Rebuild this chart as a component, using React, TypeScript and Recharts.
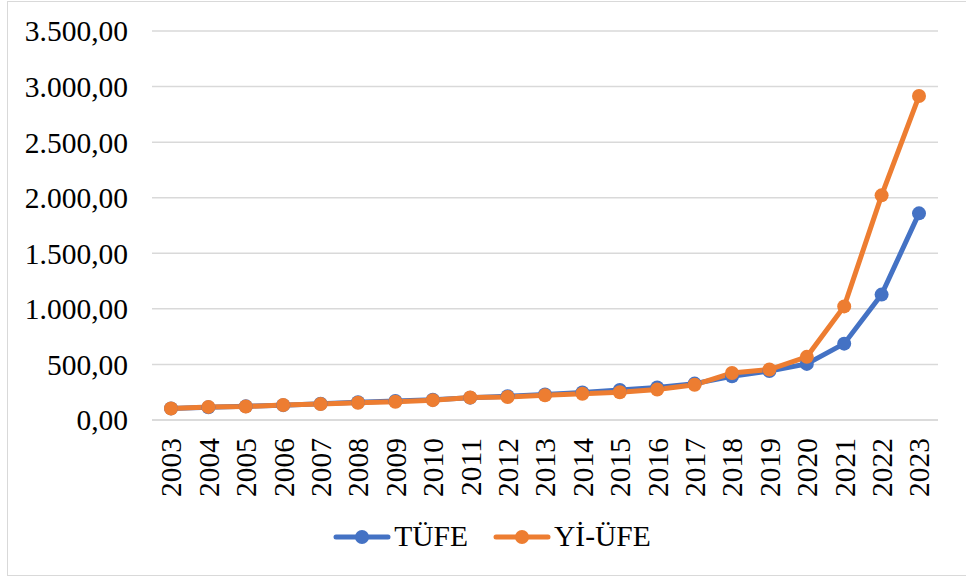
import React from "react";
import { LineChart, Line, XAxis, YAxis, CartesianGrid, Legend } from "recharts";

const years = [
  "2003", "2004", "2005", "2006", "2007", "2008", "2009", "2010", "2011", "2012", "2013",
  "2014", "2015", "2016", "2017", "2018", "2019", "2020", "2021", "2022", "2023"
];
const tufe = [
  104.2, 113.9, 122.7, 133.8, 145.8, 160.4, 170.9, 181.9, 200.9, 213.2, 229.0,
  247.7, 269.5, 292.5, 327.4, 393.9, 440.5, 504.8, 687.0, 1128.5, 1859.4
];
const yiufe = [
  103.7, 118.0, 121.1, 135.2, 143.2, 154.8, 164.0, 178.5, 202.3, 207.3, 221.7,
  235.8, 249.3, 274.1, 316.5, 422.9, 454.1, 568.3, 1022.3, 2021.2, 2915.0
];
const yTicks = [0, 500, 1000, 1500, 2000, 2500, 3000, 3500];

const data = years.map((year, i) => ({ year, tufe: tufe[i], yiufe: yiufe[i] }));

const FONT = "'Liberation Serif', 'Times New Roman', serif";
const FS = 29.5;
const BLUE = "#4472C4";
const ORANGE = "#ED7D31";

// Turkish number format: 3.500,00
const fmt = (v: number) => {
  const [int, dec] = v.toFixed(2).split(".");
  return int.replace(/\B(?=(\d{3})+(?!\d))/g, ".") + "," + dec;
};

const YearTick = (props: any) => {
  const { x, payload } = props;
  return (
    <g transform={`translate(${x},438)`}>
      <text transform="rotate(-90)" textAnchor="end" dy="0.35em" fontFamily={FONT} fontSize={FS} fill="#000">
        {payload.value}
      </text>
    </g>
  );
};

const legendItems = [
  { name: "TÜFE", color: BLUE },
  { name: "Yİ-ÜFE", color: ORANGE }
];

const ChartLegend = () => (
  <div style={{ display: "flex", justifyContent: "center", gap: 25, paddingLeft: 46, fontFamily: FONT, fontSize: FS, color: "#000" }}>
    {legendItems.map((it) => (
      <div key={it.name} style={{ display: "flex", alignItems: "center" }}>
        <svg width={58} height={20} style={{ marginRight: 3 }}>
          <line x1={3} y1={10} x2={55} y2={10} stroke={it.color} strokeWidth={5} strokeLinecap="round" />
          <circle cx={29} cy={10} r={7} fill={it.color} />
        </svg>
        <span>{it.name}</span>
      </div>
    ))}
  </div>
);

export default function App() {
  return (
    <div style={{ position: "absolute", left: 0, top: 0, width: 966, height: 577, background: "#fff", overflow: "hidden" }}>
      <div style={{ position: "absolute", left: 7, top: 1, width: 975, height: 573, border: "1px solid #d9d9d9" }} />
      <LineChart width={966} height={577} data={data} margin={{ top: 31, right: 28, left: 0, bottom: 0 }}>
        <CartesianGrid vertical={false} stroke="#d9d9d9" strokeWidth={1.5} />
        <XAxis
          dataKey="year"
          tick={<YearTick />}
          tickLine={false}
          axisLine={{ stroke: "#d9d9d9", strokeWidth: 1.5 }}
          interval={0}
          height={100}
          padding={{ left: 19, right: 19 }}
        />
        <YAxis
          domain={[0, 3500]}
          ticks={yTicks}
          tickFormatter={fmt}
          tickLine={false}
          axisLine={false}
          width={152}
          tickMargin={18}
          tick={{ fontFamily: FONT, fontSize: FS, fill: "#000" }}
        />
        <Legend verticalAlign="bottom" height={57} content={<ChartLegend />} />
        <Line
          dataKey="tufe"
          name="TÜFE"
          stroke={BLUE}
          strokeWidth={5}
          dot={{ r: 7, fill: BLUE, stroke: BLUE, strokeWidth: 0 }}
          isAnimationActive={false}
        />
        <Line
          dataKey="yiufe"
          name="Yİ-ÜFE"
          stroke={ORANGE}
          strokeWidth={5}
          dot={{ r: 7, fill: ORANGE, stroke: ORANGE, strokeWidth: 0 }}
          isAnimationActive={false}
        />
      </LineChart>
    </div>
  );
}
